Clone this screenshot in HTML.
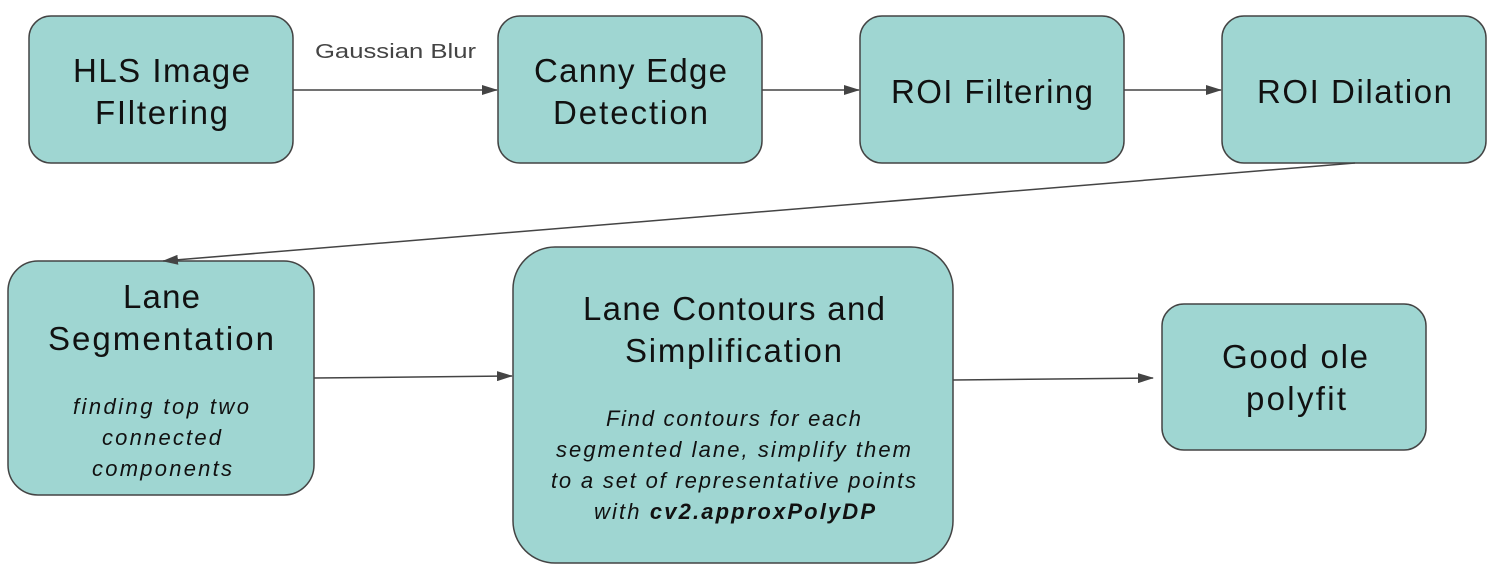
<!DOCTYPE html>
<html><head><style>html,body{margin:0;padding:0;background:#fff}</style></head>
<body>
<svg width="1498" height="574" xmlns="http://www.w3.org/2000/svg" font-family="Liberation Sans, sans-serif">
<defs><marker id="a" markerWidth="16" markerHeight="10" refX="15" refY="5" orient="auto" markerUnits="userSpaceOnUse"><path d="M0,0 L16,5 L0,10 z" fill="#444"/></marker></defs>
<g fill="#9fd6d2" stroke="#444" stroke-width="1.5">
<rect x="29" y="16" width="264" height="147" rx="22"/>
<rect x="498" y="16" width="264" height="147" rx="22"/>
<rect x="860" y="16" width="264" height="147" rx="22"/>
<rect x="1222" y="16" width="264" height="147" rx="22"/>
<rect x="8" y="261" width="306" height="234" rx="30"/>
<rect x="513" y="247" width="440" height="316" rx="42"/>
<rect x="1162" y="304" width="264" height="146" rx="22"/>
</g>
<g stroke="#444" stroke-width="1.5" fill="none" marker-end="url(#a)">
<line x1="293" y1="90" x2="497" y2="90"/>
<line x1="762" y1="90" x2="859" y2="90"/>
<line x1="1124" y1="90" x2="1221" y2="90"/>
<line x1="1355" y1="163" x2="163" y2="261"/>
<line x1="314" y1="378" x2="512" y2="376"/>
<line x1="953" y1="380" x2="1153" y2="378"/>
</g>
<text x="315" y="58" font-size="20" fill="#444" textLength="161" lengthAdjust="spacingAndGlyphs">Gaussian Blur</text>
<g font-size="33" fill="#111" lengthAdjust="spacingAndGlyphs">
<text x="73" y="82" textLength="177">HLS Image</text><text x="95" y="124" textLength="133">FIltering</text>
<text x="534" y="82" textLength="193">Canny Edge</text><text x="553" y="124" textLength="155">Detection</text>
<text x="891" y="103" textLength="202">ROI Filtering</text>
<text x="1257" y="103" textLength="195">ROI Dilation</text>
<text x="123" y="308" textLength="77">Lane</text><text x="48" y="350" textLength="226">Segmentation</text>
<text x="583" y="320" textLength="302">Lane Contours and</text><text x="625" y="362" textLength="217">Simplification</text>
<text x="1222" y="368" textLength="146">Good ole</text><text x="1246" y="410" textLength="100">polyfit</text>
</g>
<g font-size="22" font-style="italic" fill="#111" lengthAdjust="spacingAndGlyphs">
<text x="73" y="414" textLength="176">finding top two</text><text x="102" y="445" textLength="119">connected</text><text x="92" y="476" textLength="140">components</text>
<text x="606" y="426" textLength="255">Find contours for each</text><text x="556" y="457" textLength="355">segmented lane, simplify them</text><text x="551" y="488" textLength="365">to a set of representative points</text><text x="594" y="519" textLength="281">with <tspan font-weight="bold">cv2.approxPolyDP</tspan></text>
</g>
</svg>
</body></html>
